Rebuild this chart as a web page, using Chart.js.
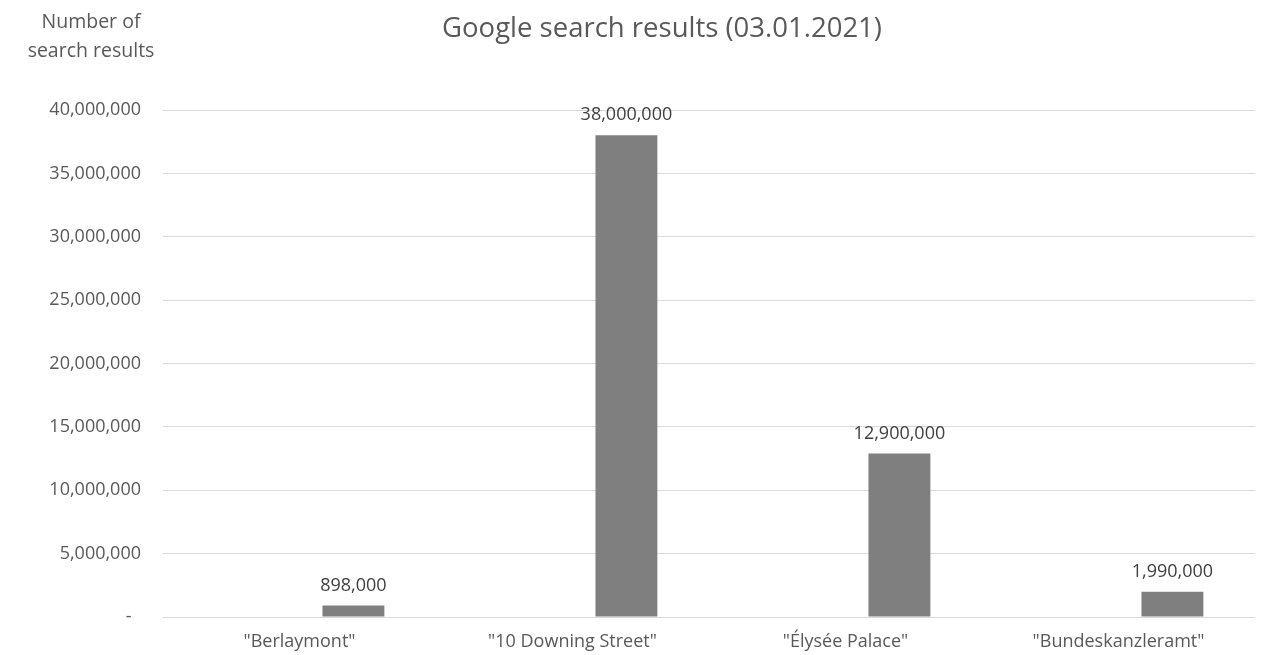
<!DOCTYPE html>
<html>
<head>
<meta charset="utf-8">
<title>Google search results</title>
<script src="https://cdn.jsdelivr.net/npm/chart.js"></script>
<style>
    body { margin: 0; background: #ffffff; }
    canvas { display: block; }
</style>
</head>
<body>
<canvas id="chart" width="1265" height="655"></canvas>
<script>
    const categories = ['"Berlaymont"', '"10 Downing Street"', '"Élysée Palace"', '"Bundeskanzleramt"'];
    const searchResults = [898000, 38000000, 12900000, 1990000];
    const emptySeries = [null, null, null, null];
    const yTicks = [0, 5000000, 10000000, 15000000, 20000000, 25000000, 30000000, 35000000, 40000000];

    const FONT = '"Open Sans", "DejaVu Sans", sans-serif';
    const fmt = v => v === 0 ? '-  ' : v.toLocaleString('en-US');

    // title and the horizontal y axis caption drawn as plain canvas text
    const textPlugin = {
        id: 'texts',
        afterDraw(chart) {
            const ctx = chart.ctx;
            ctx.save();
            ctx.fillStyle = '#595959';
            ctx.textAlign = 'center';
            ctx.textBaseline = 'middle';
            ctx.font = '27.5px ' + FONT;
            ctx.fillText('Google search results (03.01.2021)', 662, 29);
            ctx.font = '19.5px ' + FONT;
            ctx.fillText('Number of', 91, 22);
            ctx.fillText('search results', 91, 51);
            ctx.restore();
        }
    };

    const valueLabels = {
        id: 'valueLabels',
        afterDatasetsDraw(chart) {
            const ctx = chart.ctx;
            const meta = chart.getDatasetMeta(1);
            ctx.save();
            ctx.fillStyle = '#404040';
            ctx.font = '18px ' + FONT;
            ctx.textAlign = 'center';
            ctx.textBaseline = 'bottom';
            meta.data.forEach((bar, i) => {
                ctx.fillText(fmt(searchResults[i]), bar.x, bar.y - 11);
            });
            ctx.restore();
        }
    };

    new Chart(document.getElementById('chart'), {
        type: 'bar',
        data: {
            labels: categories,
            datasets: [
                { label: 'empty', data: emptySeries, backgroundColor: 'rgba(0,0,0,0)' },
                { label: 'Search results', data: searchResults, backgroundColor: '#7f7f7f' }
            ]
        },
        options: {
            responsive: false,
            animation: false,
            devicePixelRatio: 1,
            categoryPercentage: 0.79,
            barPercentage: 0.574,
            layout: { padding: { top: 110, right: 10, bottom: 0, left: 0 } },
            plugins: {
                legend: { display: false },
                title: { display: false },
                tooltip: { enabled: false }
            },
            scales: {
                x: {
                    afterFit(scale) { scale.height = 38; },
                    grid: { display: false, drawTicks: false },
                    border: { display: false },
                    ticks: { color: '#595959', font: { family: FONT, size: 18 }, padding: 14, maxRotation: 0 }
                },
                y: {
                    min: 0,
                    max: 40000000,
                    afterFit(scale) { scale.width = 163; },
                    afterBuildTicks(scale) { scale.ticks = yTicks.map(v => ({ value: v })); },
                    grid: { color: '#d9d9d9', lineWidth: 1, drawTicks: false },
                    border: { display: false },
                    ticks: {
                        color: '#595959',
                        font: { family: FONT, size: 18 },
                        padding: 22,
                        callback: v => fmt(v)
                    }
                }
            }
        },
        plugins: [textPlugin, valueLabels]
    });
</script>
</body>
</html>
